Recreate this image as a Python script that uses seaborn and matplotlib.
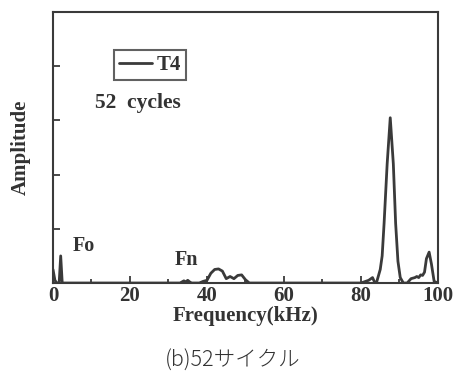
import matplotlib
matplotlib.use("Agg")
import matplotlib.pyplot as plt
import seaborn as sns
import pandas as pd

freq = [0, 0.5, 1.0, 1.6, 2.0, 2.4, 33, 34, 34.5, 35, 35.5, 36, 38, 39, 40, 41, 42, 43, 44, 45,
        46, 47, 48, 49, 50, 51, 80, 82, 83, 83.5, 84, 85, 85.5, 86, 86.8, 87.6, 88.4, 89, 89.6,
        90.2, 91, 92, 93, 94, 94.5, 95, 95.5, 96, 96.5, 97, 97.7, 98.3, 99, 100]
amp = [0.25, 0.05, 0.0, 0.0, 0.5, 0.0, 0.0, 0.04, 0.02, 0.05, 0.02, 0.0, 0.0, 0.03, 0.05, 0.18,
       0.25, 0.26, 0.22, 0.08, 0.12, 0.08, 0.14, 0.15, 0.06, 0.0, 0.0, 0.05, 0.1, 0.02, 0.0,
       0.25, 0.5, 1.1, 2.2, 3.05, 2.2, 1.1, 0.4, 0.1, 0.0, 0.0, 0.08, 0.1, 0.12, 0.1, 0.15,
       0.14, 0.2, 0.45, 0.57, 0.35, 0.03, 0.0]
series = ["T4"] * len(freq)
xticks = [0, 20, 40, 60, 80, 100]
xticklabels = ["0", "20", "40", "60", "80", "100"]
yticks = [1, 2, 3, 4]

sns.set_style("ticks")
plt.rcParams['font.family'] = ['Liberation Serif', 'DejaVu Serif']
plt.rcParams['font.weight'] = 'bold'

df = pd.DataFrame({"Frequency": freq, "Amplitude": amp, "series": series})

fig = plt.figure(figsize=(4.58, 3.78), dpi=100)
ax = fig.add_axes([0.1157, 0.2513, 0.8406, 0.7167])
col = "#3a3a3a"
sns.lineplot(data=df, x="Frequency", y="Amplitude", hue="series", palette=[col],
             linewidth=2.0, ax=ax, legend=True)

ax.set_xlim(0, 100)
ax.set_ylim(0, 5)
ax.set_xticks(xticks)
ax.set_xticklabels(xticklabels)
ax.set_xticks([10, 30, 50, 70, 90], minor=True)
ax.set_yticks(yticks)
ax.set_yticklabels([])
ax.tick_params(axis='both', which='major', direction='in', length=5, width=1.3, color=col,
               labelsize=15, labelcolor="#333333", pad=2)
ax.tick_params(axis='x', which='minor', direction='in', length=3, width=1.3, color=col)
for s in ax.spines.values():
    s.set_color(col)
    s.set_linewidth(1.5)

ax.set_xlabel("Frequency(kHz)", fontsize=15, fontweight='bold', color="#333333", labelpad=0)
ax.set_ylabel("Amplitude", fontsize=15, fontweight='bold', color="#333333", labelpad=14)

leg = ax.legend(loc='center', bbox_to_anchor=(0.252, 0.804), frameon=True, fancybox=False,
                handlelength=1.6, handletextpad=0.2, borderpad=0.25, fontsize=15)
leg.get_frame().set_edgecolor(col)
leg.get_frame().set_linewidth(1.5)
for t in leg.get_texts():
    t.set_color("#333333")

ax.text(0.108, 0.665, "52  cycles", transform=ax.transAxes, fontsize=15.5, fontweight='bold',
        color="#333333", va='center', ha='left')
ax.text(0.05, 0.135, "Fo", transform=ax.transAxes, fontsize=14.5, fontweight='bold',
        color="#333333", va='center', ha='left')
ax.text(0.317, 0.085, "Fn", transform=ax.transAxes, fontsize=14.5, fontweight='bold',
        color="#333333", va='center', ha='left')

fig.text(0.507, 0.046, "(b)52サイクル", fontsize=15.5, color="#333333",
         family=['Noto Sans CJK JP', 'DejaVu Sans'], fontweight='light', ha='center', va='center')

fig.savefig("out.png", dpi=100)
